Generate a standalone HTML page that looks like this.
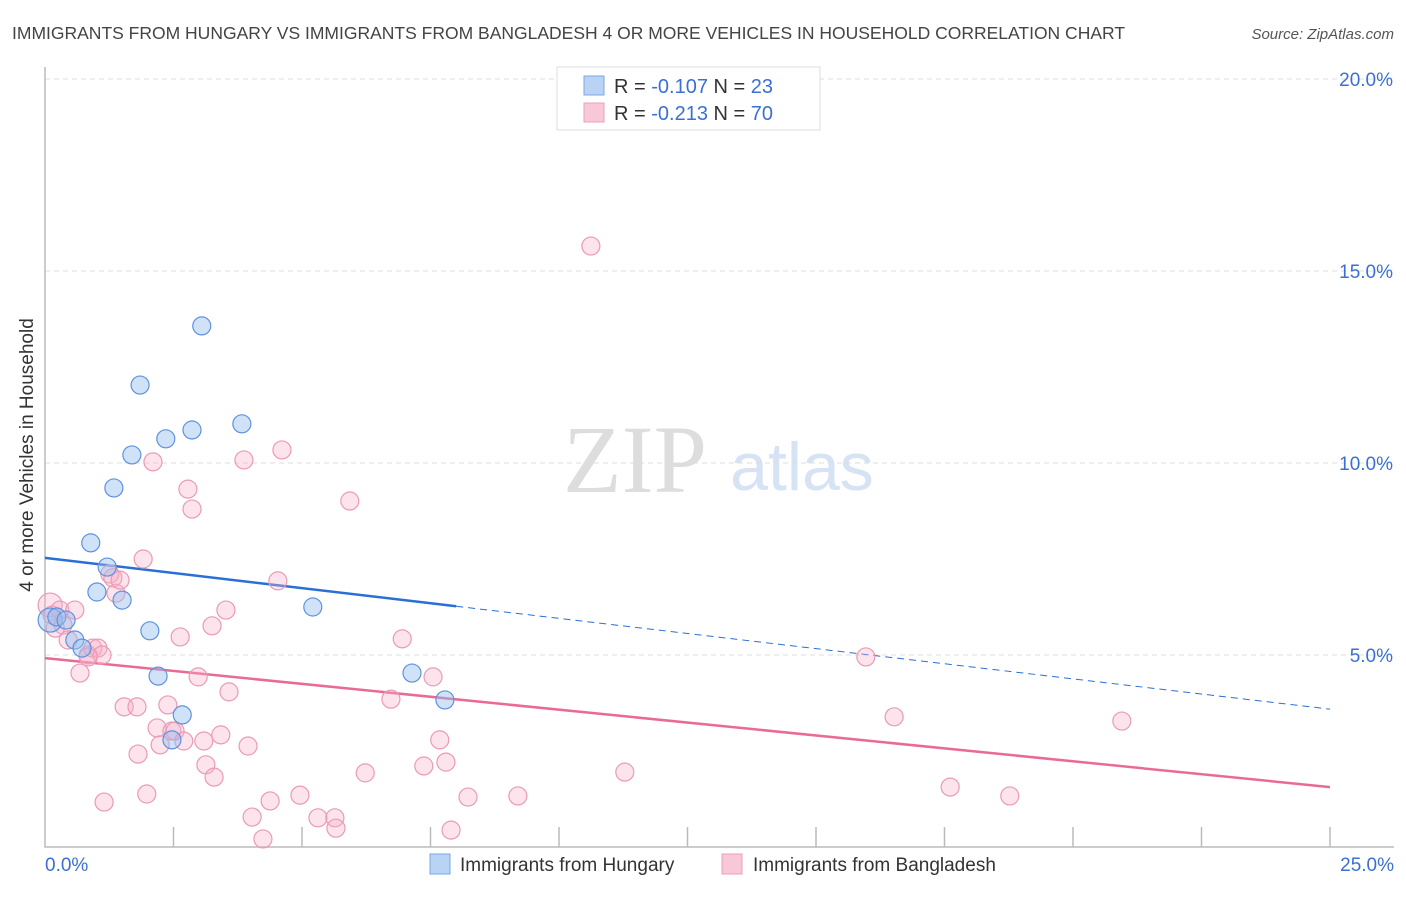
<!DOCTYPE html>
<html><head><meta charset="utf-8"><style>
body{margin:0;background:#fff;font-family:"Liberation Sans",sans-serif}
svg text{font-family:"Liberation Sans",sans-serif}
</style></head><body>
<svg width="1406" height="892" viewBox="0 0 1406 892">
<text x="12" y="39" font-size="17.5" fill="#444">IMMIGRANTS FROM HUNGARY VS IMMIGRANTS FROM BANGLADESH 4 OR MORE VEHICLES IN HOUSEHOLD CORRELATION CHART</text>
<text x="1394" y="39" font-size="15" fill="#555" font-style="italic" text-anchor="end">Source: ZipAtlas.com</text>
<text x="635" y="492" font-size="96" fill="#ddd" font-family="Liberation Serif" text-anchor="middle" style="font-family:'Liberation Serif',serif">ZIP</text>
<text x="802" y="490" font-size="68" fill="#d5e3f5" text-anchor="middle">atlas</text>
<g id="grid"></g>
<g id="axes"></g>
<g id="lines"></g>
<g id="pts"></g>
<text x="33" y="455" font-size="19" fill="#333" text-anchor="middle" transform="rotate(-90 33 455)">4 or more Vehicles in Household</text>
<g>
<rect x="557" y="67" width="263" height="63" fill="#fff" stroke="#ddd"/>
<rect x="584" y="76" width="20" height="19" fill="#b9d3f5" stroke="#7aa7e6"/>
<rect x="584" y="103" width="20" height="19" fill="#f9c8d7" stroke="#eba0b9"/>
<text x="614" y="93" font-size="20" fill="#333">R = <tspan fill="#3b6fd4">-0.107</tspan>   N = <tspan fill="#3b6fd4">23</tspan></text>
<text x="614" y="120" font-size="20" fill="#333">R = <tspan fill="#3b6fd4">-0.213</tspan>   N = <tspan fill="#3b6fd4">70</tspan></text>
</g>
<g>
<rect x="430" y="854" width="20" height="20" fill="#b9d3f5" stroke="#7aa7e6"/>
<text x="460" y="871" font-size="19" fill="#333">Immigrants from Hungary</text>
<rect x="722" y="854" width="20" height="20" fill="#f9c8d7" stroke="#eba0b9"/>
<text x="753" y="871" font-size="19" fill="#333">Immigrants from Bangladesh</text>
</g>
</svg>
<script>
const yTicks=[5,10,15,20];
const yTickLabels=["5.0%","10.0%","15.0%","20.0%"];
const xTickLabels=["0.0%","25.0%"];
const hunX=[0.10,0.23,0.41,0.58,0.72,0.89,1.01,1.21,1.34,1.50,1.69,1.85,2.04,2.20,2.35,2.47,2.67,2.86,3.05,3.83,5.21,7.14,7.78];
const hunY=[5.91,5.99,5.91,5.39,5.18,7.92,6.64,7.29,9.35,6.43,10.21,12.03,5.63,4.45,10.63,2.79,3.44,10.86,13.57,11.02,6.25,4.53,3.83];
const banX=[0.10,0.14,0.29,0.35,0.58,0.45,0.68,0.84,0.93,1.03,1.11,0.84,1.15,1.26,1.32,1.38,1.46,1.54,1.79,1.81,1.91,1.98,2.10,2.18,2.24,2.39,2.47,2.53,2.63,2.70,2.78,2.86,2.98,3.09,3.13,3.25,3.29,3.42,3.52,3.58,3.87,3.95,4.03,4.24,4.38,4.53,4.61,4.96,5.31,5.64,5.66,5.93,6.23,6.73,6.95,7.37,7.55,7.68,7.80,7.90,8.23,9.20,10.62,11.28,15.97,16.52,17.61,18.77,20.95,0.2];
const banY=[6.30,6.04,6.17,5.78,6.17,5.39,4.53,5.00,5.18,5.18,5.00,4.95,1.17,7.11,7.01,6.61,6.95,3.65,3.65,2.42,7.50,1.38,10.03,3.10,2.66,3.70,3.02,3.02,5.47,2.76,9.32,8.80,4.43,2.76,2.14,5.76,1.82,2.92,6.17,4.04,10.08,2.63,0.78,0.21,1.20,6.93,10.34,1.35,0.76,0.76,0.49,9.01,1.93,3.85,5.42,2.11,4.43,2.79,2.21,0.44,1.30,1.33,15.65,1.95,4.95,3.39,1.56,1.33,3.28,5.7];
const hunTrend=[7.53,3.59], hunSolidEnd=8.0;
const banTrend=[4.92,1.56];
const NS="http://www.w3.org/2000/svg";
const X=v=>45+v*51.4, Y=v=>847-v*38.4;
function mk(t,a,p){const e=document.createElementNS(NS,t);for(const k in a)e.setAttribute(k,a[k]);document.getElementById(p).appendChild(e);return e;}
yTicks.forEach((t,i)=>{
 const g=mk('line',{x1:45,x2:1394,y1:Y(t),y2:Y(t),stroke:'#ddd','stroke-dasharray':'5,4'},'grid');
 
 
 const l=mk('text',{x:1393,y:Y(t)+7,'font-size':19,fill:'#3b6fd4','text-anchor':'end'},'grid');l.textContent=yTickLabels[i];
 
 
});
const ax=mk('path',{d:'M45,67V847H1394',stroke:'#bbb',fill:'none','stroke-width':1.5},'axes');


for(let i=1;i<=10;i++){const t=mk('line',{x1:X(i*2.5),x2:X(i*2.5),y1:827,y2:847,stroke:'#bbb','stroke-width':1.5},'axes');
 
 }
[[0,'start',45],[25,'end',1394]].forEach((d,i)=>{const t=mk('text',{x:d[2],y:871,'font-size':19,fill:'#3b6fd4','text-anchor':d[1]},'axes');t.textContent=xTickLabels[i];
 
 });
function pts(xs,ys,fill,stroke,name){xs.forEach((x,i)=>{const c=mk('circle',{cx:X(x),cy:Y(ys[i]),r:(i===0?12:9),fill:fill,stroke:stroke,'stroke-width':1.2},'pts');
 
 });}
pts(banX,banY,'rgba(246,175,200,0.35)','#eb9ab5','point-bangladesh');
pts(hunX,hunY,'rgba(150,190,240,0.45)','#5f92dd','point-hungary');
const hm=(hunTrend[1]-hunTrend[0])/25;
const l1=mk('line',{x1:X(0),y1:Y(hunTrend[0]),x2:X(hunSolidEnd),y2:Y(hunTrend[0]+hm*hunSolidEnd),stroke:'#2a6fd6','stroke-width':2.5},'lines');


const l2=mk('line',{x1:X(hunSolidEnd),y1:Y(hunTrend[0]+hm*hunSolidEnd),x2:X(25),y2:Y(hunTrend[1]),stroke:'#2a6fd6','stroke-width':1,'stroke-dasharray':'7,5'},'lines');


const l3=mk('line',{x1:X(0),y1:Y(banTrend[0]),x2:X(25),y2:Y(banTrend[1]),stroke:'#e86a95','stroke-width':2.5},'lines');


</script>
</body></html>
